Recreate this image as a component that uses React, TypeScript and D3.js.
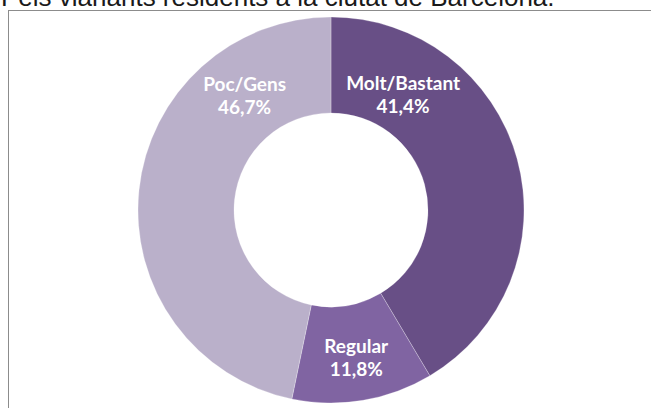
import { useEffect, useRef } from 'react';
import * as d3 from 'd3';

const categories = ['Molt/Bastant', 'Regular', 'Poc/Gens'];
const values = [41.4, 11.8, 46.7];
const valueLabels = ['41,4%', '11,8%', '46,7%'];
const colors = ['#684f86', '#8064a2', '#bab0ca'];
// where each label sits (degrees clockwise from top, distance from centre)
const labelAngles = [31, 170, -36];
const labelRadii = [140, 145, 147];

const title = 'Pels vianants residents a la ciutat de Barcelona.';

export default function App() {
  const svgRef = useRef<SVGSVGElement>(null);

  useEffect(() => {
    if (!svgRef.current) return;
    const svg = d3.select(svgRef.current);
    svg.selectAll('*').remove();

    const width = 651;
    const height = 408;
    const cx = 331;
    const cy = 210;
    const outer = 193;
    const inner = 97;

    svg.attr('width', width).attr('height', height);

    // chart frame (runs off the right/bottom edge)
    svg
      .append('rect')
      .attr('x', 8.5)
      .attr('y', 10.5)
      .attr('width', 700)
      .attr('height', 500)
      .attr('fill', '#fff')
      .attr('stroke', '#8c8c8c')
      .attr('stroke-width', 1);

    svg
      .append('text')
      .attr('x', 1)
      .attr('y', 6)
      .style('font-family', '"Liberation Sans", Arial, sans-serif')
      .style('font-size', '26px')
      .attr('fill', '#1a1a1a')
      .text(title);

    const pie = d3
      .pie<number>()
      .sort(null)
      .value((d) => d);
    const arcs = pie(values);
    const arc = d3.arc<d3.PieArcDatum<number>>().innerRadius(inner).outerRadius(outer);

    const g = svg.append('g').attr('transform', `translate(${cx},${cy})`);

    g.selectAll('path')
      .data(arcs)
      .enter()
      .append('path')
      .attr('d', arc)
      .attr('fill', (d, i) => colors[i])
      .attr('stroke', 'rgba(255,255,255,0.35)')
      .attr('stroke-width', 0.75);

    const labels = g
      .selectAll('g.lbl')
      .data(categories)
      .enter()
      .append('g')
      .attr('class', 'lbl')
      .attr('transform', (d, i) => {
        const a = (labelAngles[i] * Math.PI) / 180;
        return `translate(${labelRadii[i] * Math.sin(a)},${-labelRadii[i] * Math.cos(a)})`;
      });

    labels
      .append('text')
      .attr('text-anchor', 'middle')
      .style('font-family', 'Lato, sans-serif')
      .style('font-weight', 700)
      .style('font-size', '19px')
      .attr('fill', '#fff')
      .text((d) => d);

    labels
      .append('text')
      .attr('text-anchor', 'middle')
      .attr('y', 23)
      .style('font-family', 'Lato, sans-serif')
      .style('font-weight', 700)
      .style('font-size', '19px')
      .attr('fill', '#fff')
      .text((d, i) => valueLabels[i]);
  }, []);

  return (
    <div style={{ position: 'absolute', left: 0, top: 0 }}>
      <svg ref={svgRef} style={{ display: 'block' }} />
    </div>
  );
}
